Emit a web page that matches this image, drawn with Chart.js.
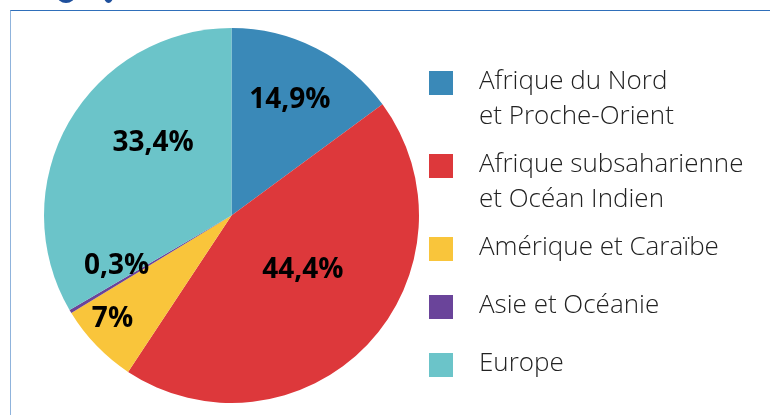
<!DOCTYPE html>
<html>
<head>
<meta charset="utf-8">
<script src="https://cdn.jsdelivr.net/npm/chart.js@4"></script>
<style>
    html, body { margin: 0; padding: 0; background: #fff; }
    #wrap { position: relative; width: 770px; height: 415px; overflow: hidden; }
    #frame { position: absolute; left: 10px; top: 10px; width: 800px; height: 450px;
             border-top: 1px solid #2f6fba; border-left: 1px solid #8fb3dc; }
    .blob { position: absolute; background: #1e4f9c; border-radius: 50%; }
    canvas { position: absolute; left: 0; top: 0; }
</style>
</head>
<body>
<div id="wrap">
    <div id="frame"></div>
    <div class="blob" style="left:57px; top:-12px; width:18px; height:15px;"></div>
    <div class="blob" style="left:104px; top:-10px; width:9px; height:13px;"></div>
    <canvas id="pieChart" width="770" height="415"></canvas>
</div>
<script>
    // data
    const regions = [
        ["Afrique du Nord", "et Proche-Orient"],
        ["Afrique subsaharienne", "et Océan Indien"],
        ["Amérique et Caraïbe"],
        ["Asie et Océanie"],
        ["Europe"]
    ];
    const shares = [14.9, 44.4, 7, 0.3, 33.4];
    const shareLabels = ["14,9%", "44,4%", "7%", "0,3%", "33,4%"];
    const colors = ["#3a89b8", "#dd383b", "#f9c53b", "#6a449a", "#6bc4c9"];

    // where each percentage sits: [fraction of radius, angle shift in degrees]
    const labelPlace = [[0.69, 0], [0.48, -6], [0.84, 3], [0.67, 7], [0.57, 13]];

    const sliceLabels = {
        id: "sliceLabels",
        afterDatasetsDraw(chart) {
            const ctx = chart.ctx;
            const meta = chart.getDatasetMeta(0);
            ctx.save();
            ctx.font = "bold 28px 'Open Sans', sans-serif";
            ctx.fillStyle = "#000";
            ctx.textAlign = "center";
            ctx.textBaseline = "middle";
            meta.data.forEach((arc, i) => {
                const p = arc.getProps(["x", "y", "startAngle", "endAngle", "outerRadius"], true);
                const a = (p.startAngle + p.endAngle) / 2 + labelPlace[i][1] * Math.PI / 180;
                const r = p.outerRadius * labelPlace[i][0];
                ctx.fillText(shareLabels[i], p.x + Math.cos(a) * r, p.y + Math.sin(a) * r);
            });
            ctx.restore();
        }
    };

    const sideLegend = {
        id: "sideLegend",
        afterDraw(chart) {
            const ctx = chart.ctx;
            const itemTops = [71, 154, 237, 295, 353];
            ctx.save();
            ctx.font = "300 26px 'Open Sans', sans-serif";
            ctx.textBaseline = "middle";
            ctx.textAlign = "left";
            regions.forEach((lines, i) => {
                const top = itemTops[i];
                ctx.fillStyle = colors[i];
                ctx.fillRect(429, top, 24, 24);
                ctx.fillStyle = "#222";
                lines.forEach((t, j) => {
                    ctx.fillText(t, 479, top + 11 + j * 35);
                });
            });
            ctx.restore();
        }
    };

    new Chart(document.getElementById("pieChart"), {
        type: "pie",
        data: {
            labels: regions.map(r => r.join(" ")),
            datasets: [{
                data: shares,
                backgroundColor: colors,
                borderWidth: 0
            }]
        },
        options: {
            responsive: false,
            animation: false,
            layout: { padding: { left: 44, right: 351, top: 28, bottom: 12 } },
            plugins: {
                legend: { display: false },
                tooltip: { enabled: false }
            }
        },
        plugins: [sliceLabels, sideLegend]
    });
</script>
</body>
</html>
